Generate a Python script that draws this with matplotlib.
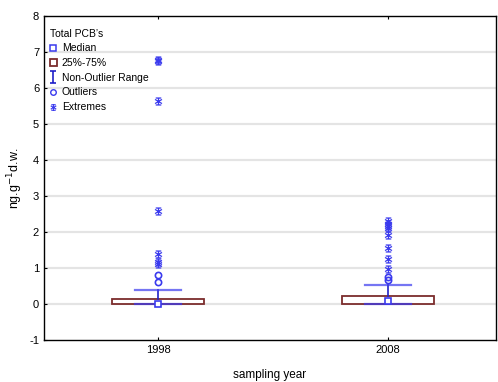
import matplotlib
matplotlib.use("Agg")
import matplotlib.pyplot as plt
from matplotlib.path import Path
from matplotlib.lines import Line2D
from matplotlib.patches import Rectangle

plt.rcParams['font.family'] = ['Liberation Sans', 'DejaVu Sans']
plt.rcParams['axes.unicode_minus'] = False

# categories
years = ['1998', '2008']
positions = [1, 2]

# box statistics
medians = [0.0, 0.08]
q1 = [0.0, 0.01]
q3 = [0.15, 0.23]
whisk_lo = [-0.01, 0.0]
whisk_hi = [0.40, 0.54]

# outliers and extremes
outliers = [[0.62, 0.80], [0.68, 0.74]]
extremes = [[1.12, 1.16, 1.38, 2.58, 5.65, 6.74, 6.78],
            [0.97, 1.25, 1.55, 1.92, 2.10, 2.16, 2.22, 2.30]]

box_col = '#7b2c2c'
blue = '#2020c8'
mark_blue = '#3a3aee'

# marqueurs "maison"
whisk_marker = Path([(-0.5, 1), (0.5, 1), (0, 1), (0, -1), (-0.5, -1), (0.5, -1)],
                    [Path.MOVETO, Path.LINETO, Path.MOVETO, Path.LINETO, Path.MOVETO, Path.LINETO])
ext_marker = Path([(-0.8, 1), (0.8, 1), (-0.8, -1), (0.8, -1), (-1, 0.6), (1, -0.6),
                   (-1, -0.6), (1, 0.6), (0, 1), (0, -1)],
                  [Path.MOVETO, Path.LINETO, Path.MOVETO, Path.LINETO, Path.MOVETO, Path.LINETO,
                   Path.MOVETO, Path.LINETO, Path.MOVETO, Path.LINETO])

fig = plt.figure(figsize=(4.98, 3.82), dpi=100)
ax = fig.add_axes([44 / 498, 42 / 382, 452 / 498, 324 / 382])

stats = []
for i in range(len(years)):
    stats.append({'med': medians[i], 'q1': q1[i], 'q3': q3[i],
                  'whislo': whisk_lo[i], 'whishi': whisk_hi[i], 'fliers': []})

ax.bxp(stats, positions=positions, widths=0.4, capwidths=0.2, showfliers=False,
       patch_artist=True,
       boxprops=dict(facecolor='white', edgecolor=box_col, linewidth=1.3),
       whiskerprops=dict(color=blue, linewidth=1.2),
       capprops=dict(color=mark_blue, linewidth=1.6, alpha=0.7),
       medianprops=dict(linestyle='none'), zorder=3)

ax.plot(positions, medians, ls='none', marker='s', ms=4.5, mfc='white', mec=mark_blue,
        mew=1.2, zorder=5)

for p, o, e in zip(positions, outliers, extremes):
    ax.plot([p] * len(o), o, ls='none', marker='o', ms=4.5, mfc='none', mec=mark_blue,
            mew=1.2, zorder=5)
    ax.plot([p] * len(e), e, ls='none', marker=ext_marker, ms=5, mec=mark_blue,
            mew=0.9, zorder=5)

ax.set_xlim(0.504, 2.47)
ax.set_ylim(-1, 8)
ax.set_yticks(range(-1, 9))
ax.set_xticks(positions)
ax.set_xticklabels(years)
ax.tick_params(labelsize=8, direction='in', length=2, width=0.8, top=True)
for y in range(0, 8):
    ax.axhline(y, color='#e4e4e4', lw=1.6, zorder=0)
for s in ax.spines.values():
    s.set_linewidth(1.0)

ax.set_xlabel('sampling year', fontsize=8.5, labelpad=10)
ax.set_ylabel('ng.g$^{-1}$d.w.', fontsize=9)
ax.yaxis.set_label_coords(-0.042, 0.5)

handles = [
    Line2D([], [], ls='none', marker='s', ms=4, mfc='white', mec=mark_blue, mew=1.1),
    Rectangle((0, 0), 1, 1, facecolor='white', edgecolor=box_col, linewidth=1.3),
    Line2D([], [], ls='none', marker=whisk_marker, ms=9, mec=blue, mew=1.2),
    Line2D([], [], ls='none', marker='o', ms=4, mfc='none', mec=mark_blue, mew=1.0),
    Line2D([], [], ls='none', marker=ext_marker, ms=4, mec=mark_blue, mew=0.8),
]
labels = ['Median', '25%-75%', 'Non-Outlier Range', 'Outliers', 'Extremes']
leg = ax.legend(handles, labels, title='Total PCB\u2019s', loc='upper left', frameon=False,
                fontsize=7.5, title_fontsize=7.5, alignment='left', handlelength=0.6,
                handletextpad=0.5, labelspacing=0.45, borderaxespad=0.2,
                bbox_to_anchor=(0.0, 0.98))

fig.savefig('out.png', dpi=100)
